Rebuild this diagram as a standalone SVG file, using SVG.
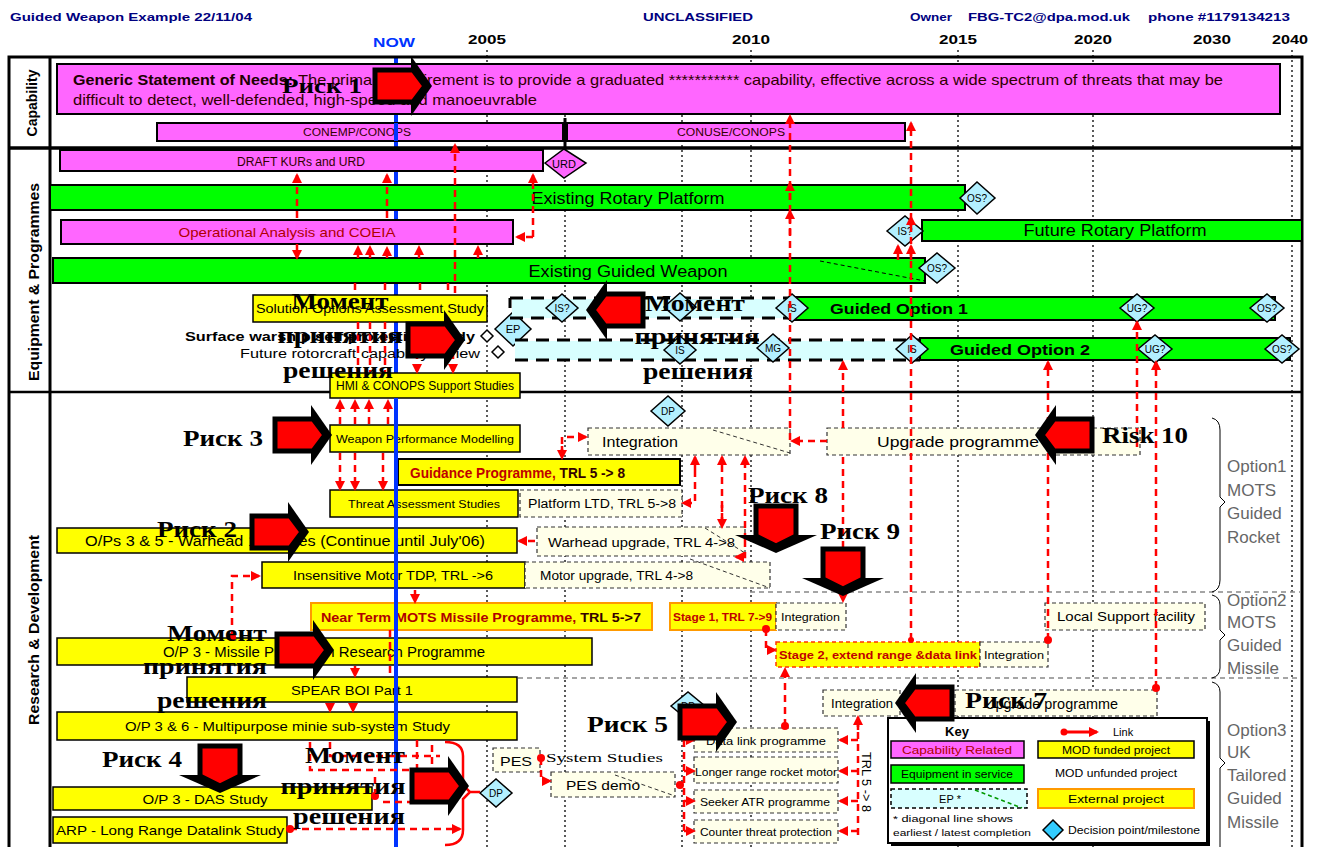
<svg xmlns="http://www.w3.org/2000/svg" width="1322" height="847" viewBox="0 0 1322 847">
<style>
text{font-family:"Liberation Sans",Arial,sans-serif}
.hd{font-size:11px;font-weight:bold;fill:#000080}
.yr{font-size:13px;font-weight:bold;fill:#000;text-anchor:middle}
.mag{fill:#ff66ff;stroke:#000;stroke-width:2}
.grn{fill:#00ff00;stroke:#000;stroke-width:2}
.yel{fill:#ffff00;stroke:#000;stroke-width:1.5}
.ext{fill:#ffff00;stroke:#ff9900;stroke-width:2}
.unf{fill:#ffffea;stroke:#333;stroke-width:1.2;stroke-dasharray:4 3}
.epf{fill:#d8ffff;stroke:none}
.epl{stroke:#000;stroke-width:3;stroke-dasharray:13 8;fill:none}
.dm{fill:#b3f0ff;stroke:#000;stroke-width:1.5}
.dt{font-size:10px;text-anchor:middle;fill:#000}
.bt{font-size:12px;fill:#000}
.c{text-anchor:middle}
.red{fill:#b00000}
.dot{stroke:#000;stroke-width:1.3;stroke-dasharray:2 3;fill:none}
.lk{fill:none;stroke:#ff0000;stroke-width:2.5;stroke-dasharray:7 5;marker-end:url(#ah)}
.lk0{fill:none;stroke:#ff0000;stroke-width:2.5;stroke-dasharray:7 5}
.rd{fill:#ff0000}
.rk{font-family:"Liberation Serif","Times New Roman",serif;font-weight:bold;font-size:24px;fill:#000}
.opt{font-size:17px;fill:#666}
.side{font-size:14px;font-weight:bold;fill:#000;text-anchor:middle}
</style>
<defs>
<marker id="ah" viewBox="0 0 10 10" refX="8" refY="5" markerWidth="10" markerHeight="10" markerUnits="userSpaceOnUse" orient="auto"><path d="M0,0 L10,5 L0,10 z" fill="#ff0000"/></marker>
<g id="arR">
<polygon points="36,-30 57,0 36,30" fill="#000"/>
<polygon points="0,-16 38,-16 50,0 38,16 0,16" fill="#ff0000" stroke="#000" stroke-width="5"/>
</g>
<g id="arD">
<polygon points="-41,29 41,29 0,47" fill="#000"/>
<polygon points="-20,0 20,0 20,30 0,40 -20,30" fill="#ff0000" stroke="#000" stroke-width="5"/>
</g>
</defs>
<rect width="1322" height="847" fill="#fff"/>

<g id="header">
<text x="10" y="21" class="hd" textLength="242" lengthAdjust="spacingAndGlyphs">Guided Weapon Example 22/11/04</text>
<text x="643" y="21" class="hd" textLength="110" lengthAdjust="spacingAndGlyphs">UNCLASSIFIED</text>
<text x="910" y="21" class="hd" textLength="42" lengthAdjust="spacingAndGlyphs">Owner</text>
<text x="968" y="21" class="hd" textLength="162" lengthAdjust="spacingAndGlyphs">FBG-TC2@dpa.mod.uk</text>
<text x="1148" y="21" class="hd" textLength="142" lengthAdjust="spacingAndGlyphs">phone #1179134213</text>
<text x="394" y="47" class="yr" style="fill:#0033ff" textLength="42" lengthAdjust="spacingAndGlyphs">NOW</text>
<text x="487" y="44" class="yr" textLength="38" lengthAdjust="spacingAndGlyphs">2005</text>
<text x="751" y="44" class="yr" textLength="38" lengthAdjust="spacingAndGlyphs">2010</text>
<text x="958" y="44" class="yr" textLength="38" lengthAdjust="spacingAndGlyphs">2015</text>
<text x="1093" y="44" class="yr" textLength="38" lengthAdjust="spacingAndGlyphs">2020</text>
<text x="1212" y="44" class="yr" textLength="38" lengthAdjust="spacingAndGlyphs">2030</text>
<text x="1290" y="44" class="yr" textLength="36" lengthAdjust="spacingAndGlyphs">2040</text>
</g>

<g id="gridlines">
<path class="dot" d="M487,50V847 M751,50V847 M958,50V847 M1093,50V847 M1292,50V847 M565,115V847 M682,115V847"/>
<line x1="396" y1="57" x2="396" y2="847" stroke="#0033ff" stroke-width="4"/>
<path d="M750,592H1300 M518,678H1300" stroke="#888" stroke-width="1.5" stroke-dasharray="5 4" fill="none"/>
</g>

<g id="frame">
<rect x="9" y="57" width="1293" height="800" fill="none" stroke="#000" stroke-width="3"/>
<line x1="50" y1="57" x2="50" y2="847" stroke="#000" stroke-width="3"/>
<line x1="9" y1="148" x2="1302" y2="148" stroke="#000" stroke-width="3.5"/>
<line x1="9" y1="392" x2="1302" y2="392" stroke="#000" stroke-width="2.5"/>
<text class="side" transform="translate(37,103) rotate(-90)">Capability</text>
<text class="side" transform="translate(39,282) rotate(-90)" textLength="198" lengthAdjust="spacingAndGlyphs">Equipment &amp; Programmes</text>
<text class="side" transform="translate(39,630) rotate(-90)" textLength="190" lengthAdjust="spacingAndGlyphs">Research &amp; Development</text>
</g>

<g id="capability">
<rect class="mag" x="57" y="64" width="1223" height="50"/>
<text x="73" y="85" style="font-size:15px;font-weight:bold;fill:#200000" textLength="220" lengthAdjust="spacingAndGlyphs">Generic Statement of Needs:</text>
<text x="298" y="85" style="font-size:15px;fill:#300000" textLength="925" lengthAdjust="spacingAndGlyphs">The primary requirement is to provide a graduated *********** capability, effective across a wide spectrum of threats that may be</text>
<text x="73" y="105" style="font-size:15px;fill:#300000" textLength="464" lengthAdjust="spacingAndGlyphs">difficult to detect, well-defended, high-speed and manoeuvrable</text>
</g>
<g id="conemp"><rect class="mag" x="157" y="123" width="406" height="18"/><text x="357" y="136" class="c" style="font-size:10px;fill:#300" textLength="108" lengthAdjust="spacingAndGlyphs">CONEMP/CONOPS</text></g>
<g id="conuse"><rect class="mag" x="567" y="123" width="338" height="18"/><text x="731" y="136" class="c" style="font-size:10px;fill:#300" textLength="108" lengthAdjust="spacingAndGlyphs">CONUSE/CONOPS</text></g>
<line x1="565" y1="118" x2="565" y2="150" stroke="#000" stroke-width="3"/>
<line x1="396" y1="123" x2="396" y2="141" stroke="#0033ff" stroke-width="4"/>

<g id="draft"><rect class="mag" x="60" y="150" width="483" height="21"/><text x="301" y="166" class="c" style="font-size:12px;fill:#300" textLength="128" lengthAdjust="spacingAndGlyphs">DRAFT KURs and URD</text></g>
<g id="urd"><polygon points="545,163 564,149 586,163 564,178" class="mag" style="stroke-width:1.5"/><text x="564" y="168" class="dt" style="font-size:11px">URD</text></g>
<g id="existing-rotary"><rect class="grn" x="50" y="185" width="915" height="25"/><text x="628" y="204" class="c" style="font-size:16px" textLength="193" lengthAdjust="spacingAndGlyphs">Existing Rotary Platform</text></g>
<g id="os1"><polygon class="dm" points="960,198 977,182 995,198 977,214"/><text x="977" y="202" class="dt">OS?</text></g>
<g id="op-analysis"><rect class="mag" x="61" y="220" width="452" height="24"/><text x="287" y="237" class="c red" style="font-size:13px" textLength="217" lengthAdjust="spacingAndGlyphs">Operational Analysis and COEIA</text></g>
<g id="future-rotary"><rect class="grn" x="922" y="220" width="380" height="21"/><text x="1115" y="236" class="c" style="font-size:16px" textLength="183" lengthAdjust="spacingAndGlyphs">Future Rotary Platform</text></g>
<g id="is1"><polygon class="dm" points="887,231 905,216 923,231 905,246"/><text x="905" y="235" class="dt">IS?</text></g>
<g id="existing-gw"><rect class="grn" x="53" y="258" width="872" height="25"/><text x="628" y="277" class="c" style="font-size:16px" textLength="199" lengthAdjust="spacingAndGlyphs">Existing Guided Weapon</text>
<line x1="820" y1="261" x2="925" y2="281" stroke="#000" stroke-width="1" stroke-dasharray="4 3"/></g>
<g id="os2"><polygon class="dm" points="919,268 937,253 955,268 937,283"/><text x="937" y="272" class="dt">OS?</text></g>

<g id="solution-study"><rect class="yel" x="253" y="295" width="234" height="27"/><text x="370" y="313" class="c" style="font-size:12px" textLength="228" lengthAdjust="spacingAndGlyphs">Solution Options Assessment Study</text></g>
<g id="surface-study"><text x="185" y="341" style="font-size:12px;font-weight:bold" textLength="290" lengthAdjust="spacingAndGlyphs">Surface warship self protection study</text><polygon points="481,336 487,330 493,336 487,342" fill="#fff" stroke="#000" stroke-width="1.5"/></g>
<g id="rotorcraft-review"><text x="240" y="358" style="font-size:12px" textLength="240" lengthAdjust="spacingAndGlyphs">Future rotorcraft capability review</text><polygon points="492,352 498,346 504,352 498,358" fill="#fff" stroke="#000" stroke-width="1.5"/></g>
<g id="ep"><polygon class="dm" points="495,329 513,312 531,329 513,346"/><text x="513" y="333" class="dt" style="font-size:11px">EP</text></g>

<g id="guided-option-1">
<rect class="epf" x="512" y="299" width="278" height="19"/>
<path class="epl" d="M510,298H790 M510,318H790 M510,298V308"/>
<rect class="grn" x="790" y="297" width="485" height="23"/>
<text x="830" y="314" style="font-size:14px;font-weight:bold" textLength="138" lengthAdjust="spacingAndGlyphs">Guided Option 1</text>
<polygon class="dm" points="546,308 562,294 578,308 562,322"/><text x="562" y="312" class="dt">IS?</text>
<polygon class="dm" points="664,307 680,293 696,307 680,321"/>
<polygon class="dm" points="776,308 792,294 808,308 792,322"/><text x="792" y="312" class="dt">IS</text>
<polygon class="dm" points="1120,308 1137,294 1154,308 1137,322"/><text x="1137" y="312" class="dt">UG?</text>
<polygon class="dm" points="1250,308 1267,294 1284,308 1267,322"/><text x="1267" y="312" class="dt">OS?</text>
</g>
<g id="guided-option-2">
<rect class="epf" x="515" y="341" width="405" height="19"/>
<path class="epl" d="M515,340H920 M515,360H920"/>
<rect class="grn" x="920" y="338" width="370" height="22"/>
<text x="950" y="355" style="font-size:14px;font-weight:bold" textLength="140" lengthAdjust="spacingAndGlyphs">Guided Option 2</text>
<polygon class="dm" points="664,350 680,336 696,350 680,364"/><text x="680" y="354" class="dt">IS</text>
<polygon class="dm" points="757,348 773,334 789,348 773,362"/><text x="773" y="352" class="dt">MG</text>
<polygon class="dm" points="896,349 912,335 928,349 912,363"/><text x="912" y="353" class="dt">IS</text>
<polygon class="dm" points="1138,349 1155,335 1172,349 1155,363"/><text x="1155" y="353" class="dt">UG?</text>
<polygon class="dm" points="1265,349 1282,335 1299,349 1282,363"/><text x="1282" y="353" class="dt">OS?</text>
</g>
<g id="hmi"><rect class="yel" x="330" y="373" width="190" height="25"/><text x="425" y="390" class="c" style="font-size:12px" textLength="178" lengthAdjust="spacingAndGlyphs">HMI &amp; CONOPS Support Studies</text></g>

<g id="dp1"><polygon class="dm" points="651,411 668,396 685,411 668,426"/><text x="668" y="415" class="dt">DP</text></g>
<g id="integration-1"><rect class="unf" x="588" y="428" width="202" height="27"/><text x="602" y="447" style="font-size:15px" textLength="76" lengthAdjust="spacingAndGlyphs">Integration</text><line x1="713" y1="430" x2="790" y2="453" stroke="#333" stroke-dasharray="4 3"/></g>
<g id="upgrade-1"><rect class="unf" x="827" y="428" width="313" height="27"/><text x="877" y="447" style="font-size:15px" textLength="162" lengthAdjust="spacingAndGlyphs">Upgrade programme</text></g>
<g id="wpm"><rect class="yel" x="330" y="425" width="190" height="27"/><text x="425" y="443" class="c" style="font-size:11px" textLength="178" lengthAdjust="spacingAndGlyphs">Weapon Performance Modelling</text></g>
<g id="guidance"><rect class="yel" x="398" y="459" width="282" height="26" style="stroke-width:2"/><text x="410" y="478" style="font-size:14px;font-weight:bold" textLength="215" lengthAdjust="spacingAndGlyphs"><tspan fill="#c00000">Guidance Programme,</tspan><tspan fill="#300"> TRL 5 -&gt; 8</tspan></text></g>
<g id="threat"><rect class="yel" x="330" y="490" width="188" height="27"/><text x="424" y="508" class="c" style="font-size:11px" textLength="152" lengthAdjust="spacingAndGlyphs">Threat Assessment Studies</text></g>
<g id="platform-ltd"><rect class="unf" x="520" y="490" width="162" height="27"/><text x="528" y="508" style="font-size:12px" textLength="148" lengthAdjust="spacingAndGlyphs">Platform LTD, TRL 5-&gt;8</text></g>
<g id="ops35"><rect class="yel" x="57" y="528" width="460" height="25"/><text x="85" y="546" style="font-size:14px" textLength="400" lengthAdjust="spacingAndGlyphs">O/Ps 3 &amp; 5 - Warhead 1 Studies (Continue until July'06)</text></g>
<g id="warhead-upgrade"><rect class="unf" x="537" y="527" width="208" height="29"/><text x="548" y="547" style="font-size:13px" textLength="187" lengthAdjust="spacingAndGlyphs">Warhead upgrade, TRL 4-&gt;8</text><line x1="705" y1="528" x2="745" y2="553" stroke="#333" stroke-dasharray="4 3"/></g>
<g id="insensitive"><rect class="yel" x="262" y="562" width="263" height="26"/><text x="393" y="580" class="c" style="font-size:13px" textLength="200" lengthAdjust="spacingAndGlyphs">Insensitive Motor TDP, TRL -&gt;6</text></g>
<g id="motor-upgrade"><rect class="unf" x="525" y="562" width="245" height="26"/><text x="540" y="580" style="font-size:13px" textLength="153" lengthAdjust="spacingAndGlyphs">Motor upgrade, TRL 4-&gt;8</text><line x1="690" y1="559" x2="770" y2="588" stroke="#333" stroke-dasharray="4 3"/></g>

<g id="near-term"><rect class="ext" x="311" y="603" width="341" height="27"/><text x="321" y="622" style="font-size:13px;font-weight:bold" textLength="320" lengthAdjust="spacingAndGlyphs"><tspan fill="#b00000">Near Term MOTS Missile Programme,</tspan><tspan fill="#300"> TRL 5-&gt;7</tspan></text></g>
<g id="stage1"><rect class="ext" x="670" y="603" width="106" height="27"/><text x="673" y="621" style="font-size:11px;font-weight:bold;fill:#c00000" textLength="99" lengthAdjust="spacingAndGlyphs">Stage 1, TRL 7-&gt;9</text></g>
<g id="integration-2"><rect class="unf" x="776" y="603" width="70" height="27"/><text x="781" y="621" style="font-size:11px" textLength="59" lengthAdjust="spacingAndGlyphs">Integration</text></g>
<g id="local-support"><rect class="unf" x="1045" y="603" width="160" height="27"/><text x="1057" y="621" style="font-size:13px" textLength="138" lengthAdjust="spacingAndGlyphs">Local Support facility</text></g>
<g id="op3-missile"><rect class="yel" x="57" y="638" width="535" height="27"/><text x="163" y="657" style="font-size:14px" textLength="322" lengthAdjust="spacingAndGlyphs">O/P 3 - Missile Propulsion Research Programme</text></g>
<g id="stage2"><rect x="776" y="642" width="204" height="25" fill="#ffff00" stroke="#ff3300" stroke-width="1.5" stroke-dasharray="4 3"/><text x="779" y="659" style="font-size:11px;font-weight:bold;fill:#c00000" textLength="198" lengthAdjust="spacingAndGlyphs">Stage 2, extend range &amp;data link</text></g>
<g id="integration-3"><rect class="unf" x="980" y="642" width="68" height="25"/><text x="984" y="659" style="font-size:11px" textLength="60" lengthAdjust="spacingAndGlyphs">Integration</text></g>
<g id="spear"><rect class="yel" x="187" y="677" width="330" height="25"/><text x="352" y="695" class="c" style="font-size:13px" textLength="122" lengthAdjust="spacingAndGlyphs">SPEAR BOI Part 1</text></g>
<g id="integration-4"><rect class="unf" x="823" y="690" width="77" height="26"/><text x="831" y="708" style="font-size:12px" textLength="62" lengthAdjust="spacingAndGlyphs">Integration</text></g>
<g id="upgrade-2"><rect class="unf" x="955" y="690" width="202" height="26"/><text x="985" y="709" style="font-size:15px" textLength="133" lengthAdjust="spacingAndGlyphs">Upgrade programme</text></g>
<g id="op36"><rect class="yel" x="57" y="712" width="460" height="28"/><text x="125" y="731" style="font-size:13px" textLength="325" lengthAdjust="spacingAndGlyphs">O/P 3 &amp; 6 - Multipurpose minie sub-system Study</text></g>
<g id="dp2"><polygon class="dm" points="671,706 688,692 705,706 688,720"/><text x="688" y="710" class="dt">DP</text></g>
<g id="data-link"><rect class="unf" x="694" y="728" width="144" height="24"/><text x="706" y="745" style="font-size:11px" textLength="120" lengthAdjust="spacingAndGlyphs">Data link programme</text></g>
<g id="rocket-motor"><rect class="unf" x="694" y="757" width="144" height="26"/><text x="695" y="776" style="font-size:11px" textLength="142" lengthAdjust="spacingAndGlyphs">Longer range rocket motor</text></g>
<g id="seeker"><rect class="unf" x="694" y="790" width="144" height="23"/><text x="700" y="806" style="font-size:11px" textLength="130" lengthAdjust="spacingAndGlyphs">Seeker ATR programme</text></g>
<g id="counter-threat"><rect class="unf" x="694" y="820" width="144" height="23"/><text x="700" y="836" style="font-size:11px" textLength="132" lengthAdjust="spacingAndGlyphs">Counter threat protection</text></g>
<text transform="translate(862,752) rotate(90)" style="font-size:12px" textLength="60" lengthAdjust="spacingAndGlyphs">TRL 5 -&gt; 8</text>
<g id="pes"><rect class="unf" x="493" y="748" width="47" height="24"/><text x="500" y="766" style="font-size:13px" textLength="32" lengthAdjust="spacingAndGlyphs">PES</text></g>
<text x="546" y="762" style="font-family:'Liberation Serif',serif;font-size:13px" textLength="117" lengthAdjust="spacingAndGlyphs">System Studies</text>
<g id="pes-demo"><rect class="unf" x="551" y="772" width="124" height="25"/><text x="566" y="790" style="font-size:13px" textLength="74" lengthAdjust="spacingAndGlyphs">PES demo</text><line x1="615" y1="775" x2="675" y2="796" stroke="#333" stroke-dasharray="4 3"/></g>
<g id="dp3"><polygon class="dm" points="480,793 496,779 512,793 496,807"/><text x="496" y="797" class="dt">DP</text></g>
<g id="das"><rect class="yel" x="53" y="787" width="319" height="23"/><text x="205" y="804" class="c" style="font-size:13px" textLength="125" lengthAdjust="spacingAndGlyphs">O/P 3 - DAS Study</text></g>
<g id="arp"><rect class="yel" x="53" y="817" width="234" height="26"/><text x="56" y="835" style="font-size:13px" textLength="228" lengthAdjust="spacingAndGlyphs">ARP - Long Range Datalink Study</text></g>
<line x1="396" y1="398" x2="396" y2="847" stroke="#0033ff" stroke-width="4"/>

<g id="options">
<path d="M1212,418 Q1220,420 1220,430 V497 L1225,502 L1220,507 V580 Q1220,590 1212,592 M1212,595 Q1220,597 1220,605 V630 L1225,635 L1220,640 V668 Q1220,676 1212,678 M1212,682 Q1220,684 1220,692 V758 L1225,763 L1220,768 V847" fill="none" stroke="#000" stroke-width="1"/>
<text x="1227" y="472" class="opt">Option1</text><text x="1227" y="496" class="opt">MOTS</text><text x="1227" y="519" class="opt">Guided</text><text x="1227" y="543" class="opt">Rocket</text>
<text x="1227" y="606" class="opt">Option2</text><text x="1227" y="628" class="opt">MOTS</text><text x="1227" y="651" class="opt">Guided</text><text x="1227" y="674" class="opt">Missile</text>
<text x="1227" y="736" class="opt">Option3</text><text x="1227" y="758" class="opt">UK</text><text x="1227" y="781" class="opt">Tailored</text><text x="1227" y="804" class="opt">Guided</text><text x="1227" y="828" class="opt">Missile</text>
</g>

<g id="connectors">
<path class="lk" d="M455,293V145"/>
<path class="lk" d="M297,218V175"/>
<path class="lk" d="M387,218V175"/>
<path class="lk" d="M387,258V248"/>
<path class="lk" d="M533,237V175"/>
<path class="lk" d="M533,237H517"/>
<path class="lk" d="M358,258V247"/>
<path class="lk" d="M370,258V247"/>
<path class="lk" d="M419,258V247"/>
<path class="lk" d="M478,258V247"/>
<path class="lk" d="M297,244V258"/>
<path class="lk0" d="M355,283V295 M385,283V295 M420,283V295 M448,283V295"/>
<path class="lk0" d="M358,322V372 M370,322V372 M385,322V372"/>
<path class="lk" d="M417,340V372"/>
<path class="lk" d="M453,340V372"/>
<path class="lk" d="M340,424V401"/>
<path class="lk" d="M355,424V401"/>
<path class="lk" d="M369,424V401"/>
<path class="lk" d="M388,424V401"/>
<path class="lk" d="M340,453V489"/>
<path class="lk" d="M355,453V489"/>
<path class="lk" d="M383,453V489"/>
<path class="lk" d="M562,456V437H586"/>
<path class="lk" d="M562,446V458"/>
<path class="lk" d="M695,458V503H683"/>
<path class="lk" d="M695,470V457"/>
<path class="lk" d="M722,520V457"/>
<path class="lk" d="M722,505V527"/>
<path class="lk" d="M745,540V457"/>
<path class="lk" d="M745,540V557H736"/>
<path class="lk" d="M535,541H519"/>
<path class="lk" d="M790,440V116"/>
<path class="lk" d="M790,200V183"/>
<path class="lk" d="M790,235V211"/>
<path class="lk" d="M827,441H792"/>
<path class="lk" d="M843,428V362"/>
<path class="lk" d="M843,457V601"/>
<path class="lk" d="M911,640V123"/>
<path class="lk" d="M911,260V246"/>
<path class="lk" d="M898,260V246"/>
<path class="lk" d="M911,226V217"/>
<path class="lk" d="M1048,640V362"/>
<path class="lk" d="M1137,447V322"/>
<path class="lk" d="M1156,688V362"/>
<path class="lk" d="M232,637V576H259"/>
<path class="lk" d="M415,590V602"/>
<path class="lk" d="M355,666V676"/>
<path class="lk0" d="M390,630V677"/>
<path class="lk" d="M330,703V711"/>
<path class="lk" d="M353,703V711"/>
<path class="lk0" d="M310,742V770H445 M330,742V756H440 M417,740V770 M432,745V775 M383,802H412 M375,796V772"/>
<path d="M445,742 Q463,742 463,756 V785 L470,792 L463,799 V830 Q463,845 445,845 M470,792H480" fill="none" stroke="#ff0000" stroke-width="2.5"/>
<path class="lk" d="M290,829H460"/>
<path class="lk" d="M541,758V781H550"/>
<path class="lk0" d="M676,785H684 M684,740V832"/>
<path class="lk" d="M684,740H694"/>
<path class="lk" d="M684,771H694"/>
<path class="lk" d="M684,801H694"/>
<path class="lk" d="M684,831H694"/>
<path class="lk0" d="M858,835V722"/>
<path class="lk" d="M858,740H840"/>
<path class="lk" d="M858,771H840"/>
<path class="lk" d="M858,801H840"/>
<path class="lk" d="M858,831H840"/>
<path class="lk" d="M858,730V717"/>
<path class="lk" d="M785,726V669"/>
<path class="lk" d="M766,629V650H775"/>
<g class="rd"><circle cx="1048" cy="640" r="4"/><circle cx="1156" cy="688" r="4"/><circle cx="232" cy="637" r="4"/><circle cx="290" cy="829" r="4"/><circle cx="541" cy="758" r="4"/><circle cx="680" cy="785" r="4"/><circle cx="785" cy="726" r="4"/><circle cx="766" cy="629" r="4"/><circle cx="375" cy="796" r="4"/><circle cx="911" cy="640" r="3"/></g>
</g>

<g id="key">
<rect x="891" y="721" width="319" height="125" fill="#000"/>
<rect x="888" y="718" width="319" height="125" fill="#fff" stroke="#000" stroke-width="2"/>
<text x="957" y="736" class="c" style="font-size:13px;font-weight:bold">Key</text>
<circle cx="1064" cy="732" r="3.5" fill="#ff0000"/><line x1="1064" y1="732" x2="1097" y2="732" stroke="#ff0000" stroke-width="3" marker-end="url(#ah)"/>
<text x="1113" y="736" style="font-size:11px">Link</text>
<rect class="mag" x="891" y="741" width="133" height="17" style="stroke-width:1.5"/><text x="957" y="754" class="c red" style="font-size:11px" textLength="110" lengthAdjust="spacingAndGlyphs">Capability Related</text>
<rect class="yel" x="1038" y="741" width="156" height="17"/><text x="1116" y="754" class="c" style="font-size:11px" textLength="108" lengthAdjust="spacingAndGlyphs">MOD funded project</text>
<rect class="grn" x="891" y="765" width="133" height="18" style="stroke-width:1.5"/><text x="957" y="778" class="c" style="font-size:11px" textLength="112" lengthAdjust="spacingAndGlyphs">Equipment in service</text>
<text x="1116" y="777" class="c" style="font-size:11px" textLength="122" lengthAdjust="spacingAndGlyphs">MOD unfunded project</text>
<rect x="891" y="789" width="136" height="19" fill="#d8ffff" stroke="#000" stroke-width="1.5" stroke-dasharray="4 3"/><line x1="975" y1="790" x2="1022" y2="808" stroke="#009900" stroke-width="1.5" stroke-dasharray="4 3"/><text x="950" y="803" class="c" style="font-size:11px">EP *</text>
<rect class="ext" x="1038" y="789" width="156" height="19"/><text x="1116" y="803" class="c" style="font-size:11px" textLength="96" lengthAdjust="spacingAndGlyphs">External project</text>
<text x="893" y="822" style="font-size:9px" textLength="120" lengthAdjust="spacingAndGlyphs">* diagonal line shows</text>
<text x="893" y="836" style="font-size:9px" textLength="138" lengthAdjust="spacingAndGlyphs">earliest / latest completion</text>
<polygon points="1043,830 1053,820 1063,830 1053,840" fill="#33ccff" stroke="#000" stroke-width="1.5"/>
<text x="1068" y="834" style="font-size:11px" textLength="132" lengthAdjust="spacingAndGlyphs">Decision point/milestone</text>
</g>

<g id="risk-1"><use href="#arR" transform="translate(375,86)"/><text x="282" y="93" class="rk" style="font-size:20px" textLength="80" lengthAdjust="spacingAndGlyphs">Риск 1</text></g>
<g id="decision-1"><use href="#arR" transform="translate(408,340)"/><text x="340" y="309" class="rk c" textLength="97" lengthAdjust="spacingAndGlyphs">Момент</text><text x="340" y="343" class="rk c" textLength="125" lengthAdjust="spacingAndGlyphs">принятия</text><text x="338" y="378" class="rk c" textLength="110" lengthAdjust="spacingAndGlyphs">решения</text></g>
<g id="decision-2"><use href="#arR" transform="translate(643,310) scale(-1,1)"/><text x="695" y="311" class="rk c" textLength="100" lengthAdjust="spacingAndGlyphs">Момент</text><text x="697" y="344" class="rk c" textLength="125" lengthAdjust="spacingAndGlyphs">принятия</text><text x="698" y="379" class="rk c" textLength="110" lengthAdjust="spacingAndGlyphs">решения</text></g>
<g id="risk-3"><use href="#arR" transform="translate(275,435)"/><text x="183" y="446" class="rk" textLength="80" lengthAdjust="spacingAndGlyphs">Риск 3</text></g>
<g id="risk-10"><use href="#arR" transform="translate(1092,435) scale(-1,1)"/><text x="1102" y="443" class="rk" textLength="86" lengthAdjust="spacingAndGlyphs">Risk 10</text></g>
<g id="risk-8"><use href="#arD" transform="translate(776,506)"/><text x="748" y="503" class="rk" textLength="80" lengthAdjust="spacingAndGlyphs">Риск 8</text></g>
<g id="risk-9"><use href="#arD" transform="translate(843,549)"/><text x="820" y="539" class="rk" textLength="80" lengthAdjust="spacingAndGlyphs">Риск 9</text></g>
<g id="risk-2"><use href="#arR" transform="translate(252,532)"/><text x="157" y="537" class="rk" textLength="80" lengthAdjust="spacingAndGlyphs">Риск 2</text></g>
<g id="decision-3"><use href="#arR" transform="translate(277,650)"/><text x="217" y="641" class="rk c" textLength="100" lengthAdjust="spacingAndGlyphs">Момент</text><text x="205" y="674" class="rk c" textLength="124" lengthAdjust="spacingAndGlyphs">принятия</text><text x="212" y="708" class="rk c" textLength="110" lengthAdjust="spacingAndGlyphs">решения</text></g>
<g id="risk-7"><use href="#arR" transform="translate(952,703) scale(-1,1)"/><text x="965" y="708" class="rk" textLength="82" lengthAdjust="spacingAndGlyphs">Риск 7</text></g>
<g id="risk-5"><use href="#arR" transform="translate(680,722)"/><text x="587" y="732" class="rk" textLength="81" lengthAdjust="spacingAndGlyphs">Риск 5</text></g>
<g id="risk-4"><use href="#arD" transform="translate(220,746)"/><text x="102" y="767" class="rk" textLength="80" lengthAdjust="spacingAndGlyphs">Риск 4</text></g>
<g id="decision-4"><use href="#arR" transform="translate(412,786)"/><text x="355" y="763" class="rk c" textLength="100" lengthAdjust="spacingAndGlyphs">Момент</text><text x="343" y="794" class="rk c" textLength="125" lengthAdjust="spacingAndGlyphs">принятия</text><text x="349" y="824" class="rk c" textLength="112" lengthAdjust="spacingAndGlyphs">решения</text></g>
</svg>
